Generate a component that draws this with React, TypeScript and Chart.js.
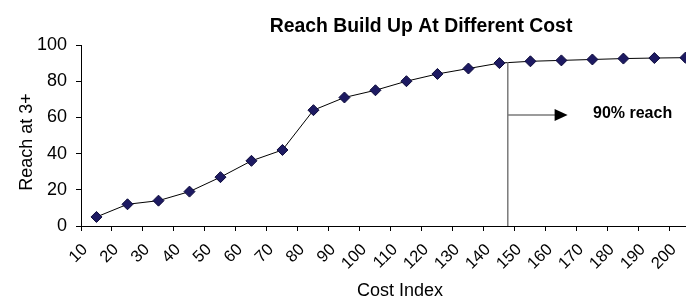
import React, { useEffect, useRef } from 'react';
import { Chart, registerables } from 'chart.js';

Chart.register(...registerables);

// ---- data ----
const costIndex = [10, 20, 30, 40, 50, 60, 70, 80, 90, 100, 110, 120, 130, 140, 150, 160, 170, 180, 190, 200];
const reachAt3 = [5, 12, 14, 19, 27, 36, 42, 64, 71, 75, 80, 84, 87, 90, 91, 91.5, 92, 92.5, 92.8, 93];
const yTicks = [0, 20, 40, 60, 80, 100];

const titleText = 'Reach Build Up At Different Cost';
const xTitle = 'Cost Index';
const yTitle = 'Reach at 3+';
const noteText = '90% reach';

// annotation (in data units)
const thresholdCost = 147.7;
const thresholdReach = 90.5;
const arrowEndCost = 167;
const arrowReach = 61.3;
const noteCost = 175.2;

const FONT = '"Liberation Sans", Arial, sans-serif';

const overlay = {
  id: 'overlay',
  afterDraw(chart: any) {
    const { ctx, scales } = chart;
    const xs = scales.x;
    const ys = scales.y;
    ctx.save();
    // annotation vertical line
    const vx = xs.getPixelForValue(thresholdCost);
    ctx.strokeStyle = '#7a7a7a';
    ctx.lineWidth = 1.5;
    ctx.beginPath();
    ctx.moveTo(vx, ys.getPixelForValue(thresholdReach));
    ctx.lineTo(vx, ys.getPixelForValue(0));
    ctx.stroke();
    // arrow
    const ay = ys.getPixelForValue(arrowReach);
    const ax2 = xs.getPixelForValue(arrowEndCost);
    ctx.beginPath();
    ctx.moveTo(vx, ay);
    ctx.lineTo(ax2 - 12, ay);
    ctx.stroke();
    ctx.fillStyle = '#000';
    ctx.beginPath();
    ctx.moveTo(ax2, ay);
    ctx.lineTo(ax2 - 13, ay - 6);
    ctx.lineTo(ax2 - 13, ay + 6);
    ctx.closePath();
    ctx.fill();
    // note text
    ctx.font = `bold 16px ${FONT}`;
    ctx.textAlign = 'left';
    ctx.textBaseline = 'middle';
    ctx.fillText(noteText, xs.getPixelForValue(noteCost), ay - 1);
    // main title
    ctx.font = `bold 19.4px ${FONT}`;
    ctx.textAlign = 'center';
    ctx.textBaseline = 'alphabetic';
    ctx.fillText(titleText, 421, 32);
    // x title
    ctx.font = `18px ${FONT}`;
    ctx.fillText(xTitle, 400, 296);
    // y title
    ctx.translate(27.5, 142);
    ctx.rotate(-Math.PI / 2);
    ctx.textBaseline = 'middle';
    ctx.fillText(yTitle, 0, 0);
    ctx.restore();
  },
};

export default function App() {
  const ref = useRef<HTMLCanvasElement>(null);
  useEffect(() => {
    if (!ref.current) return;
    const chart = new Chart(ref.current, {
      type: 'line',
      data: {
        datasets: [
          {
            data: reachAt3.map((v, i) => ({ x: costIndex[i] + 5, y: v })),
            borderColor: '#000',
            borderWidth: 1,
            pointStyle: 'rectRot',
            pointRadius: 5.5,
            pointBackgroundColor: '#1d1a62',
            pointBorderColor: '#0c0a3a',
            pointBorderWidth: 1,
            tension: 0,
            clip: false,
          } as any,
        ],
      },
      options: {
        animation: false,
        responsive: false,
        layout: { autoPadding: false, padding: { top: 45, right: 0, left: 0, bottom: 0 } },
        plugins: { legend: { display: false }, tooltip: { enabled: false }, title: { display: false } },
        scales: {
          x: {
            type: 'linear',
            min: 10,
            max: 205.2,
            afterBuildTicks: (s: any) => {
              s.ticks = costIndex.map((v) => ({ value: v }));
            },
            afterFit: (s: any) => {
              s.height = 73;
              s.paddingLeft = 0;
              s.paddingRight = 0;
            },
            ticks: {
              autoSkip: false,
              maxRotation: 45,
              minRotation: 45,
              color: '#000',
              font: { size: 16.5, family: FONT },
              padding: 9,
              labelOffset: 4,
              callback: (v: any) => String(v),
            },
            grid: { display: true, drawOnChartArea: false, drawTicks: true, tickLength: 5, color: '#000' },
            border: { display: true, color: '#000', width: 1 },
          },
          y: {
            min: 0,
            max: 100,
            afterBuildTicks: (s: any) => {
              s.ticks = yTicks.map((v) => ({ value: v }));
            },
            afterFit: (s: any) => {
              s.width = 81;
            },
            ticks: {
              color: '#000',
              font: { size: 18, family: FONT },
              padding: 9,
            },
            grid: { display: true, drawOnChartArea: false, drawTicks: true, tickLength: 5, color: '#000' },
            border: { display: true, color: '#000', width: 1 },
          },
        },
      },
      plugins: [overlay],
    });
    return () => chart.destroy();
  }, []);
  return (
    <div style={{ position: 'fixed', left: 0, top: 0, width: 686, height: 299, background: '#fff' }}>
      <canvas ref={ref} width={686} height={299} style={{ display: 'block' }} />
    </div>
  );
}
